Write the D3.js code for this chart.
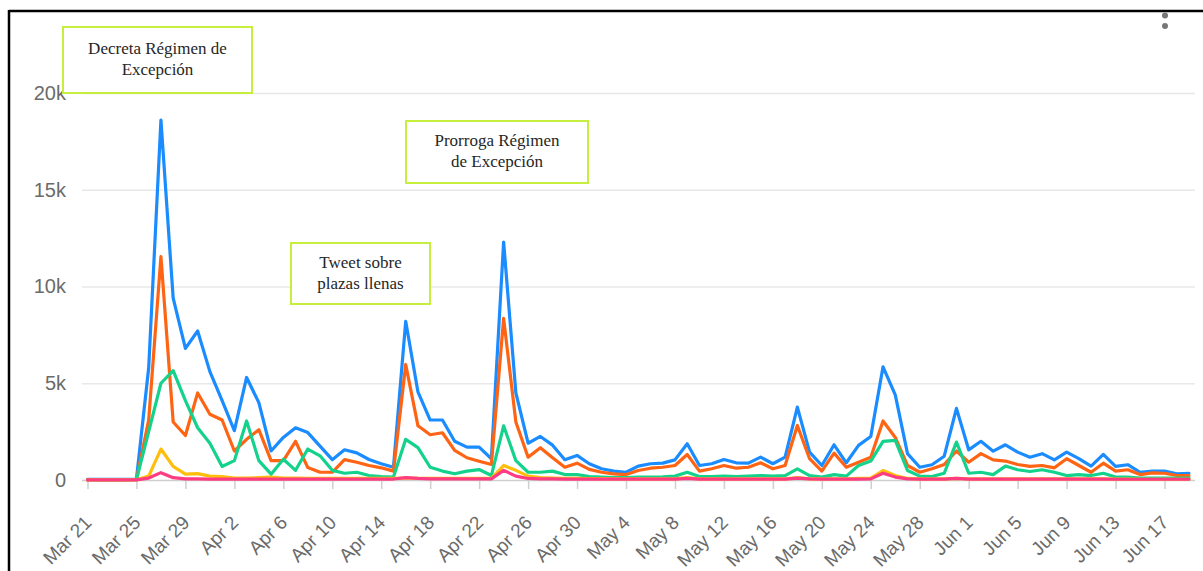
<!DOCTYPE html>
<html><head><meta charset="utf-8">
<script src="https://cdn.jsdelivr.net/npm/d3@7"></script>
<style>
html,body{margin:0;padding:0;background:#fff;}
svg{display:block;}
</style></head>
<body>
<svg id="chart" width="1203" height="571"></svg>
<script>
const startDate = "2020-03-21";
const tickLabels = ["Mar 21","Mar 25","Mar 29","Apr 2","Apr 6","Apr 10","Apr 14","Apr 18","Apr 22","Apr 26","Apr 30","May 4","May 8","May 12","May 16","May 20","May 24","May 28","Jun 1","Jun 5","Jun 9","Jun 13","Jun 17"];
const yTicks = [0,5000,10000,15000,20000];

const blue = [30,30,30,30,50,5800,18600,9400,6800,7700,5600,4100,2550,5300,4000,1500,2200,2700,2450,1750,1050,1560,1400,1060,840,660,8200,4550,3100,3100,2000,1700,1700,1100,12300,4500,1900,2250,1800,1050,1270,840,580,460,400,720,840,870,1040,1870,750,840,1060,890,870,1180,840,1180,3770,1440,750,1820,890,1790,2250,5850,4400,1360,660,790,1230,3700,1560,2000,1490,1820,1440,1180,1360,1040,1440,1100,720,1320,700,790,400,460,460,320,350];
const orange = [20,20,20,20,30,3100,11550,3000,2300,4500,3400,3100,1500,2100,2600,1000,1000,2000,640,400,400,1050,920,750,630,460,5970,2800,2340,2440,1530,1150,970,800,8350,3000,1180,1670,1150,660,870,550,400,320,280,490,610,660,750,1320,460,580,750,610,660,890,580,750,2820,1100,460,1390,660,920,1180,3050,2200,750,400,580,800,1500,920,1360,1040,980,800,700,750,630,1100,750,400,870,460,530,280,370,350,230,230];
const green = [10,10,10,10,20,2500,5000,5650,4100,2700,1900,700,1000,3050,1000,300,1070,500,1600,1250,500,350,400,230,180,150,2100,1670,660,460,320,460,540,230,2800,1000,400,400,460,280,280,180,150,130,120,150,150,160,200,400,180,180,200,180,200,230,200,230,580,230,150,280,200,750,980,2000,2050,490,200,180,350,1960,350,400,280,720,530,440,530,400,230,280,230,350,150,150,100,100,100,100,100];
const yellow = [5,5,5,5,10,200,1600,700,300,330,200,170,100,100,120,150,100,100,90,80,80,80,80,80,80,80,100,90,80,80,80,80,80,80,750,500,200,120,100,80,80,70,70,60,60,60,60,60,60,120,60,60,60,60,60,60,60,60,120,60,60,60,60,80,100,490,230,80,60,60,60,80,60,60,60,60,60,60,60,60,60,60,60,60,50,50,40,40,40,40,40];
const pink = [5,5,5,5,10,100,380,120,60,60,50,50,50,50,50,50,50,50,50,50,50,50,50,50,50,50,120,80,60,60,60,60,60,60,500,200,80,60,60,50,50,50,50,50,50,50,50,50,50,80,50,50,50,50,50,50,50,50,100,60,50,50,50,50,60,350,150,60,50,50,50,80,50,50,50,50,50,50,50,50,50,50,50,50,40,40,40,40,40,40,40];

const seriesList = [
  {name:"blue", values:blue, color:"#1a8cff"},
  {name:"orange", values:orange, color:"#ff6414"},
  {name:"green", values:green, color:"#14d28c"},
  {name:"yellow", values:yellow, color:"#ffbe0b"},
  {name:"pink", values:pink, color:"#ff3c82"}
];

const annotations = [
  {lines:["Decreta Régimen de","Excepción"], x0:63, y0:27, x1:252, y1:93},
  {lines:["Prorroga Régimen","de Excepción"], x0:406, y0:121, x1:588, y1:183},
  {lines:["Tweet sobre","plazas llenas"], x0:291, y0:243, x1:430, y1:304}
];

const svg = d3.select("#chart");
const parse = d3.timeParse("%Y-%m-%d");
const d0 = parse(startDate);
const dates = blue.map((_, i) => d3.timeDay.offset(d0, i));

const x = d3.scaleTime().domain([d0, dates[dates.length-1]]).range([87.5, 1189]);
const y = d3.scaleLinear().domain([0, 20000]).range([480, 93]);
const gridLeft = 82, gridRight = 1195;

// frame
svg.append("line").attr("x1",9).attr("x2",1203).attr("y1",11).attr("y2",11).attr("stroke","#000").attr("stroke-width",2.5);
svg.append("line").attr("x1",9).attr("x2",9).attr("y1",10).attr("y2",571).attr("stroke","#000").attr("stroke-width",2.5);
// menu dots
svg.append("circle").attr("cx",1165).attr("cy",15.5).attr("r",3).attr("fill","#777");
svg.append("circle").attr("cx",1165).attr("cy",26).attr("r",3).attr("fill","#777");

// y axis with grid
const yAxis = svg.append("g").attr("transform", `translate(${gridLeft},0)`)
  .call(d3.axisLeft(y).tickValues(yTicks).tickSize(-(gridRight-gridLeft)).tickPadding(16)
    .tickFormat(d => d === 0 ? "0" : (d/1000) + "k"));
yAxis.select(".domain").remove();
yAxis.selectAll(".tick line").attr("stroke", d => d === 0 ? "#cfcfcf" : "#e8e8e8").attr("stroke-width", 1.5);
yAxis.selectAll(".tick text").attr("fill","#6b6b6b").style("font-family","'Liberation Sans', Arial, sans-serif").style("font-size","20px");

// x axis
const tickDates = tickLabels.map(s => d3.timeParse("%b %d %Y")(s + " 2020"));
const xAxis = svg.append("g").attr("transform", `translate(0,${y(0)})`)
  .call(d3.axisBottom(x).tickValues(tickDates).tickSize(9).tickFormat((d,i) => tickLabels[i]));
xAxis.select(".domain").remove();
xAxis.selectAll(".tick line").attr("stroke","#cfcfcf").attr("stroke-width",1.5);
xAxis.selectAll(".tick text")
  .attr("fill","#6b6b6b").style("font-family","'Liberation Sans', Arial, sans-serif").style("font-size","19px")
  .attr("text-anchor","end").attr("dy","0.35em").attr("y",0)
  .attr("transform","translate(0,39) rotate(-45)");

// lines
const line = d3.line().x((d,i) => x(dates[i])).y(d => y(d));
svg.append("g").selectAll("path").data(seriesList).join("path")
  .attr("d", s => line(s.values))
  .attr("fill","none").attr("stroke", s => s.color).attr("stroke-width",3.2)
  .attr("stroke-linejoin","round").attr("stroke-linecap","round");

// annotations
const ag = svg.append("g").selectAll("g").data(annotations).join("g");
ag.append("rect").attr("x", a => a.x0).attr("y", a => a.y0)
  .attr("width", a => a.x1 - a.x0).attr("height", a => a.y1 - a.y0)
  .attr("fill","#fff").attr("stroke","#c5ef3c").attr("stroke-width",2);
ag.each(function(a){
  const g = d3.select(this);
  const cx = (a.x0 + a.x1)/2, cy = (a.y0 + a.y1)/2;
  a.lines.forEach((t, k) => {
    g.append("text").attr("x", cx).attr("y", cy + (k - 0.5)*21 + 4.5)
      .attr("text-anchor","middle").attr("fill","#262626")
      .style("font-family","'Liberation Serif', 'Times New Roman', serif").style("font-size","17px")
      .text(t);
  });
});
</script>
</body></html>
